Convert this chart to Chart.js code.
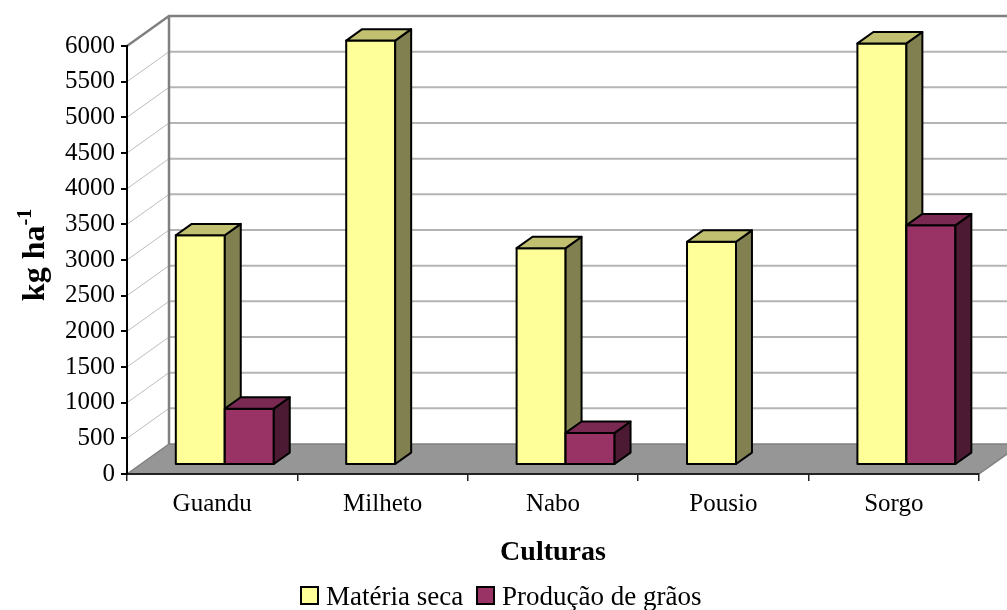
<!DOCTYPE html>
<html>
<head>
<meta charset="utf-8">
<title>Culturas</title>
<script src="https://cdn.jsdelivr.net/npm/chart.js@4.4.1/dist/chart.umd.min.js"></script>
<style>
  html, body { margin: 0; padding: 0; background: #fff; }
  canvas { display: block; }
</style>
</head>
<body>
<canvas id="chart" width="1007" height="610"></canvas>
<script>
// data
const categories = ["Guandu", "Milheto", "Nabo", "Pousio", "Sorgo"];
const materiaSeca = [3220, 5950, 3040, 3130, 5910];
const producaoGraos = [790, null, 450, null, 3360];
const seriesNames = ["Matéria seca", "Produção de grãos"];

const yMax = 6000;
const yStep = 500;

// colours per series: front, top, side
const faces = [
  { front: "#FFFF99", top: "#C0C070", side: "#808050" },
  { front: "#993366", top: "#7A2952", side: "#4D1A33" }
];

const serif = "'Liberation Serif', 'Times New Roman', serif";

// depth of the floor/walls and where the bars sit inside it
const depthX = 42, depthY = -30;
const barFront = 0.3, barBack = 0.68;

function box(ctx, x0, x1, yTop, yBase, f) {
  const fx = depthX * barFront, fy = depthY * barFront;
  const dx = depthX * (barBack - barFront), dy = depthY * (barBack - barFront);
  const l = x0 + fx, r = x1 + fx, t = yTop + fy, b = yBase + fy;
  ctx.lineWidth = 2;
  ctx.lineJoin = "round";
  ctx.strokeStyle = "#000";

  ctx.fillStyle = f.front;
  ctx.beginPath();
  ctx.rect(l, t, r - l, b - t);
  ctx.fill(); ctx.stroke();

  ctx.fillStyle = f.side;
  ctx.beginPath();
  ctx.moveTo(r, t); ctx.lineTo(r + dx, t + dy);
  ctx.lineTo(r + dx, b + dy); ctx.lineTo(r, b);
  ctx.closePath();
  ctx.fill(); ctx.stroke();

  ctx.fillStyle = f.top;
  ctx.beginPath();
  ctx.moveTo(l, t); ctx.lineTo(l + dx, t + dy);
  ctx.lineTo(r + dx, t + dy); ctx.lineTo(r, t);
  ctx.closePath();
  ctx.fill(); ctx.stroke();
}

const scene3d = {
  id: "scene3d",
  beforeDraw(chart) {
    const ctx = chart.ctx;
    const a = chart.chartArea;
    const y = chart.scales.y;
    ctx.save();

    // floor
    ctx.fillStyle = "#969696";
    ctx.beginPath();
    ctx.moveTo(a.left, a.bottom);
    ctx.lineTo(a.right, a.bottom);
    ctx.lineTo(a.right + depthX, a.bottom + depthY);
    ctx.lineTo(a.left + depthX, a.bottom + depthY);
    ctx.closePath();
    ctx.fill();
    ctx.strokeStyle = "#808080";
    ctx.lineWidth = 1.5;
    ctx.beginPath();
    ctx.moveTo(a.left + depthX, a.bottom + depthY);
    ctx.lineTo(a.right + depthX, a.bottom + depthY);
    ctx.moveTo(a.right, a.bottom);
    ctx.lineTo(a.right + depthX, a.bottom + depthY);
    ctx.stroke();

    // gridlines across the side and back walls
    y.ticks.forEach(t => {
      if (t.value === 0 || t.value === yMax) return;
      const py = y.getPixelForValue(t.value);
      ctx.strokeStyle = "#BDBDBD";
      ctx.lineWidth = 1;
      ctx.beginPath();
      ctx.moveTo(a.left, py);
      ctx.lineTo(a.left + depthX, py + depthY);
      ctx.stroke();
      ctx.strokeStyle = "#B4B4B4";
      ctx.lineWidth = 2;
      ctx.beginPath();
      ctx.moveTo(a.left + depthX, py + depthY);
      ctx.lineTo(a.right + depthX, py + depthY);
      ctx.stroke();
    });

    // wall edges
    ctx.strokeStyle = "#808080";
    ctx.lineWidth = 2.5;
    ctx.beginPath();
    ctx.moveTo(a.left, a.top);
    ctx.lineTo(a.left + depthX, a.top + depthY);
    ctx.lineTo(a.right + depthX, a.top + depthY);
    ctx.moveTo(a.left + depthX, a.top + depthY);
    ctx.lineTo(a.left + depthX, a.bottom + depthY);
    ctx.stroke();
    ctx.lineWidth = 1.5;
    ctx.beginPath();
    ctx.moveTo(a.left, a.bottom);
    ctx.lineTo(a.left + depthX, a.bottom + depthY);
    ctx.stroke();
    ctx.restore();
  },
  beforeDatasetsDraw(chart) {
    const ctx = chart.ctx;
    ctx.save();
    categories.forEach((c, i) => {
      chart.data.datasets.forEach((ds, d) => {
        if (ds.data[i] == null) return;
        const el = chart.getDatasetMeta(d).data[i];
        const p = el.getProps(["x", "y", "base", "width"], true);
        box(ctx, p.x - p.width / 2, p.x + p.width / 2, p.y, p.base, faces[d]);
      });
    });
    ctx.restore();
    return false;
  },
  afterDraw(chart) {
    const ctx = chart.ctx;
    ctx.save();
    ctx.fillStyle = "#000";

    // y axis title with superscript
    ctx.save();
    ctx.translate(44, 255);
    ctx.rotate(-Math.PI / 2);
    ctx.font = "bold 32px " + serif;
    const main = "kg ha";
    const mw = ctx.measureText(main).width;
    ctx.font = "bold 20px " + serif;
    const sw = ctx.measureText("-1").width;
    const x0 = -(mw + sw) / 2;
    ctx.font = "bold 32px " + serif;
    ctx.textBaseline = "alphabetic";
    ctx.fillText(main, x0, 0);
    ctx.font = "bold 20px " + serif;
    ctx.fillText("-1", x0 + mw, -13);
    ctx.restore();

    // x axis title
    ctx.font = "bold 28px " + serif;
    ctx.textAlign = "center";
    ctx.textBaseline = "alphabetic";
    ctx.fillText("Culturas", 553, 560);

    // legend
    ctx.textAlign = "left";
    ctx.font = "27px " + serif;
    const items = [{ x: 301 }, { x: 477 }];
    items.forEach((it, d) => {
      ctx.fillStyle = faces[d].front;
      ctx.strokeStyle = "#000";
      ctx.lineWidth = 2;
      ctx.fillRect(it.x, 587, 17, 17);
      ctx.strokeRect(it.x, 587, 17, 17);
      ctx.fillStyle = "#000";
      ctx.fillText(seriesNames[d], it.x + 25, 605);
    });
    ctx.restore();
  }
};

const ctx = document.getElementById("chart").getContext("2d");

new Chart(ctx, {
  type: "bar",
  data: {
    labels: categories,
    datasets: [
      { label: seriesNames[0], data: materiaSeca, backgroundColor: faces[0].front },
      { label: seriesNames[1], data: producaoGraos, backgroundColor: faces[1].front }
    ]
  },
  options: {
    responsive: false,
    animation: false,
    layout: { padding: { top: 46, right: 28, left: 0, bottom: 0 } },
    datasets: { bar: { categoryPercentage: 0.575, barPercentage: 1.0 } },
    plugins: { legend: { display: false }, tooltip: { enabled: false } },
    scales: {
      x: {
        afterFit(scale) { scale.height = 136; },
        grid: { offset: true, drawOnChartArea: false, drawTicks: true, tickLength: 7, color: "#222", lineWidth: 1.5 },
        border: { color: "#222", width: 2 },
        ticks: { color: "#000", padding: 8, font: { family: serif, size: 25 } }
      },
      y: {
        min: 0,
        max: yMax,
        afterFit(scale) { scale.width = 127; },
        grid: { drawOnChartArea: false, drawTicks: true, tickLength: 6, color: "#000", lineWidth: 2 },
        border: { color: "#000", width: 2 },
        ticks: { stepSize: yStep, color: "#000", padding: 6, font: { family: serif, size: 25 },
          callback: v => String(v) }
      }
    }
  },
  plugins: [scene3d]
});
</script>
</body>
</html>
